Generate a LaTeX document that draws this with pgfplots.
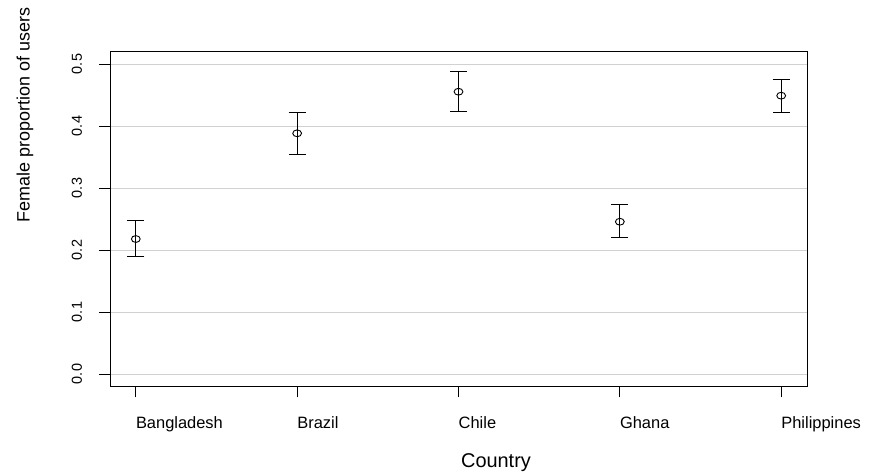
\documentclass[border=0pt]{standalone}
\usepackage{pgfplots}
\usepackage{pgfplotstable}
\pgfplotsset{compat=1.18}
\usepackage{fontspec}
\setmainfont{Liberation Sans}

\pgfplotstableread{
x y ep em
1 0.2177 0.0302 0.0285
2 0.3882 0.0333 0.0338
3 0.4553 0.0323 0.0311
4 0.2456 0.0286 0.0258
5 0.4489 0.0264 0.0268
}\datatable

\begin{document}
\begin{tikzpicture}
\useasboundingbox (-110bp,-87.6bp) rectangle (763bp,386.4bp);
\begin{axis}[
  at={(0,0)}, anchor=south west,
  scale only axis,
  width=697bp, height=334.8bp,
  xmin=0.84, xmax=5.16, ymin=-0.02, ymax=0.52,
  xtick={1,2,3,4,5},
  xticklabels={Bangladesh,Brazil,Chile,Ghana,Philippines},
  ytick={0,0.1,0.2,0.3,0.4,0.5},
  yticklabels={0.0,0.1,0.2,0.3,0.4,0.5},
  xtick pos=lower, ytick pos=left,
  tick align=outside,
  major tick length=11bp,
  tick style={black, line width=0.9bp},
  axis line style={black, line width=0.9bp},
  ymajorgrids,
  major grid style={black!18, line width=1bp},
  xticklabel style={anchor=north west, inner sep=0pt, font=\fontsize{16.5}{17}\selectfont, yshift=-19bp},
  yticklabel style={rotate=90, anchor=center, inner sep=0pt, font=\fontsize{14.5}{15}\selectfont, yshift=22bp},
  xlabel={Country},
  ylabel={Female proportion of users},
  every axis x label/.style={at={(axis description cs:0.5538,-0.2288)}, anchor=center, font=\fontsize{20}{20}\selectfont},
  every axis y label/.style={at={(axis description cs:-0.122,0.8106)}, anchor=center, rotate=90, font=\fontsize{18}{18}\selectfont},
  clip=false,
]
\addplot[black, only marks, mark=o, mark size=3.4bp,
  mark options={xscale=1.3, line width=0.9bp},
  error bars/.cd, y dir=both, y explicit,
  error bar style={line width=0.9bp, black},
  error mark options={rotate=90, mark size=8.5bp, line width=0.9bp, black}]
  table[x=x, y=y, y error plus=ep, y error minus=em] {\datatable};
\end{axis}
\end{tikzpicture}
\end{document}
